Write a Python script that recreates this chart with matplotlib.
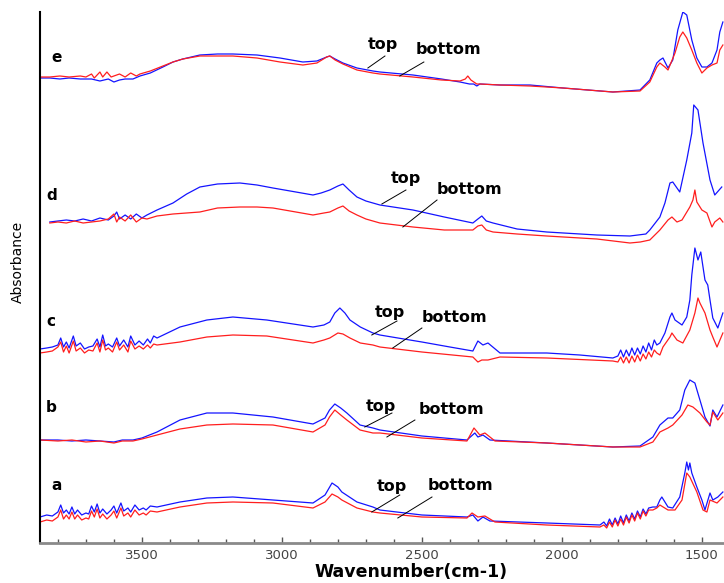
import matplotlib
matplotlib.use("Agg")
import matplotlib.pyplot as plt
from matplotlib.ticker import MultipleLocator, FixedLocator

# ---------------- data (wavenumber cm-1, absorbance in arbitrary stacked units) -------------
# trace e
e_top_wn = [3864, 3829, 3793, 3760, 3720, 3680, 3650, 3620, 3600, 3580, 3560, 3532, 3507, 3470, 3425, 3389,
            3354, 3293, 3230, 3175, 3089, 3007, 2925, 2875, 2840, 2829, 2810, 2782, 2732, 2675, 2650, 2532,
            2430, 2364, 2330, 2315, 2304, 2293, 2221, 2114, 1996, 1818, 1721, 1686, 1661, 1650, 1639, 1621,
            1604, 1586, 1568, 1554, 1536, 1518, 1500, 1482, 1464, 1446, 1436, 1425]
e_top = [465, 465, 464, 465, 464, 464, 462, 464, 461, 463, 464, 464, 467, 470, 476, 481,
         484, 488, 489, 489, 488, 485, 481, 482, 486, 487, 484, 480, 475, 472, 471, 468,
         464, 461, 459, 459, 457, 459, 458, 458, 455, 451, 453, 463, 480, 483, 485, 475,
         483, 513, 531, 528, 503, 485, 476, 476, 480, 493, 511, 521]
e_bot_wn = [3864, 3829, 3793, 3760, 3720, 3700, 3680, 3670, 3650, 3640, 3625, 3610, 3580, 3560, 3540, 3520,
            3507, 3470, 3425, 3389, 3354, 3293, 3230, 3175, 3089, 3007, 2925, 2875, 2840, 2829, 2810, 2782,
            2732, 2675, 2650, 2532, 2430, 2364, 2345, 2336, 2325, 2304, 2293, 2221, 2114, 1996, 1818, 1721,
            1686, 1661, 1650, 1632, 1621, 1596, 1579, 1568, 1554, 1536, 1518, 1500, 1482, 1464, 1446, 1436, 1425]
e_bot = [466, 466, 467, 466, 467, 466, 469, 465, 471, 466, 471, 466, 469, 466, 470, 467,
         469, 472, 477, 481, 484, 487, 487, 487, 485, 481, 478, 480, 486, 487, 483, 479,
         473, 470, 469, 466, 463, 462, 464, 467, 463, 459, 459, 458, 457, 455, 451, 452,
         461, 476, 480, 476, 473, 490, 506, 511, 505, 493, 480, 470, 475, 478, 480, 493, 498]

# trace d
d_top_wn = [3829, 3800, 3770, 3740, 3710, 3680, 3650, 3620, 3600, 3590, 3580, 3560, 3540, 3520, 3500, 3482,
            3446, 3389, 3340, 3293, 3230, 3150, 3089, 3032, 2950, 2889, 2860, 2829, 2800, 2782, 2760, 2732,
            2700, 2650, 2532, 2420, 2318, 2300, 2286, 2270, 2246, 2160, 2054, 1875, 1757, 1700, 1686, 1650,
            1632, 1614, 1604, 1579, 1554, 1536, 1529, 1514, 1496, 1471, 1454, 1429]
d_top = [321, 322, 323, 322, 324, 322, 325, 323, 327, 331, 324, 328, 324, 329, 325, 328,
         333, 340, 349, 356, 359, 360, 358, 355, 351, 348, 350, 353, 357, 359, 353, 346,
         342, 338, 333, 326, 320, 324, 327, 322, 320, 314, 311, 308, 307, 309, 313, 326,
         340, 360, 361, 351, 383, 410, 438, 433, 400, 363, 348, 356]
d_bot_wn = [3829, 3800, 3770, 3740, 3710, 3680, 3650, 3620, 3600, 3590, 3580, 3560, 3540, 3520, 3500, 3482,
            3446, 3389, 3293, 3230, 3150, 3089, 3032, 2950, 2889, 2850, 2829, 2800, 2782, 2760, 2732, 2700,
            2650, 2532, 2420, 2318, 2300, 2286, 2270, 2246, 2160, 2054, 1875, 1757, 1720, 1686, 1650, 1621,
            1607, 1589, 1571, 1543, 1532, 1525, 1518, 1500, 1482, 1464, 1454, 1436, 1425]
d_bot = [320, 321, 320, 322, 320, 321, 322, 324, 329, 321, 326, 322, 328, 321, 325, 324,
         327, 329, 331, 335, 336, 336, 335, 331, 328, 330, 331, 335, 337, 332, 328, 324,
         320, 316, 313, 313, 317, 318, 313, 311, 309, 307, 304, 300, 301, 303, 313, 323,
         326, 321, 323, 336, 343, 353, 341, 333, 330, 316, 321, 325, 321]

# trace c
c_top_wn = [3864, 3840, 3820, 3800, 3790, 3780, 3770, 3760, 3745, 3735, 3720, 3705, 3690, 3675, 3660, 3650,
            3640, 3630, 3620, 3605, 3590, 3580, 3565, 3550, 3540, 3525, 3510, 3495, 3480, 3470, 3458, 3446,
            3364, 3268, 3175, 3054, 2889, 2850, 2829, 2811, 2793, 2775, 2757, 2720, 2675, 2650, 2500, 2400,
            2318, 2300, 2282, 2264, 2221, 2054, 1936, 1818, 1800, 1790, 1780, 1770, 1760, 1750, 1740, 1730,
            1720, 1710, 1700, 1690, 1680, 1670, 1661, 1650, 1632, 1614, 1607, 1596, 1571, 1554, 1543, 1536,
            1525, 1514, 1504, 1489, 1479, 1471, 1461, 1443, 1425]
c_top = [194, 195, 196, 198, 205, 196, 201, 195, 207, 197, 200, 194, 196, 197, 204, 196,
         208, 197, 199, 196, 205, 197, 203, 196, 207, 198, 202, 198, 204, 200, 207, 205,
         216, 223, 226, 223, 216, 218, 221, 230, 235, 230, 223, 216, 210, 208, 201, 196,
         192, 202, 198, 200, 190, 190, 188, 185, 187, 193, 186, 193, 187, 195, 188, 195,
         189, 197, 191, 200, 193, 203, 198, 200, 210, 226, 230, 223, 218, 226, 243, 268,
         295, 283, 291, 263, 258, 243, 225, 215, 230]
c_bot_wn = [3864, 3840, 3820, 3800, 3790, 3780, 3770, 3760, 3745, 3735, 3720, 3705, 3690, 3675, 3660, 3650,
            3640, 3630, 3620, 3605, 3590, 3580, 3565, 3550, 3540, 3525, 3510, 3495, 3480, 3470, 3458, 3446,
            3364, 3268, 3175, 3054, 2889, 2850, 2829, 2800, 2782, 2757, 2720, 2675, 2650, 2500, 2318, 2300,
            2286, 2264, 2221, 2054, 1818, 1800, 1790, 1780, 1770, 1760, 1750, 1740, 1730, 1720, 1710, 1700,
            1690, 1680, 1670, 1661, 1650, 1639, 1614, 1607, 1589, 1568, 1543, 1525, 1514, 1507, 1489, 1471,
            1461, 1446, 1425]
c_bot = [190, 191, 192, 196, 201, 191, 197, 190, 202, 192, 195, 190, 193, 192, 200, 191,
         203, 193, 195, 191, 201, 193, 198, 191, 202, 194, 197, 194, 198, 195, 199, 198,
         201, 206, 208, 207, 200, 203, 205, 210, 209, 205, 200, 198, 196, 191, 186, 181,
         183, 183, 186, 185, 182, 181, 186, 180, 186, 180, 187, 181, 188, 182, 189, 184,
         191, 186, 193, 190, 188, 196, 206, 210, 203, 200, 213, 230, 245, 240, 230, 213,
         206, 196, 210]

# trace b
b_top_wn = [3864, 3800, 3750, 3700, 3650, 3600, 3570, 3532, 3500, 3446, 3364, 3268, 3175, 3032, 2889, 2846,
            2830, 2811, 2790, 2768, 2721, 2675, 2650, 2500, 2339, 2311, 2300, 2282, 2257, 2054, 1818, 1721,
            1675, 1650, 1621, 1604, 1579, 1561, 1543, 1525, 1507, 1489, 1471, 1461, 1446, 1425]
b_top = [103, 103, 102, 103, 102, 101, 103, 103, 105, 111, 123, 130, 130, 126, 119, 125,
         133, 139, 135, 130, 118, 115, 113, 107, 103, 110, 106, 108, 103, 100, 96, 97,
         106, 118, 125, 125, 133, 153, 163, 160, 143, 126, 117, 133, 126, 138]
b_bot_wn = [3864, 3800, 3750, 3700, 3650, 3600, 3570, 3532, 3500, 3446, 3364, 3268, 3175, 3032, 2889, 2846,
            2830, 2811, 2790, 2768, 2721, 2675, 2650, 2500, 2339, 2314, 2293, 2275, 2239, 2054, 1818, 1721,
            1675, 1650, 1621, 1604, 1571, 1550, 1532, 1507, 1482, 1471, 1461, 1443, 1425]
b_bot = [103, 102, 103, 101, 102, 100, 102, 102, 104, 108, 114, 118, 119, 118, 111, 118,
         126, 133, 128, 123, 113, 110, 110, 105, 102, 115, 108, 110, 102, 100, 96, 96,
         101, 111, 115, 118, 128, 138, 136, 130, 121, 118, 131, 123, 130]

# trace a
a_top_wn = [3864, 3840, 3820, 3800, 3790, 3780, 3770, 3760, 3750, 3740, 3730, 3715, 3700, 3690, 3680, 3670,
            3660, 3650, 3640, 3625, 3610, 3600, 3590, 3575, 3565, 3550, 3540, 3525, 3510, 3495, 3485, 3470,
            3446, 3364, 3268, 3175, 3032, 2889, 2846, 2821, 2800, 2786, 2732, 2675, 2650, 2500, 2339, 2318,
            2300, 2282, 2257, 2054, 1864, 1850, 1840, 1830, 1820, 1810, 1800, 1790, 1780, 1770, 1760, 1750,
            1740, 1730, 1720, 1710, 1700, 1690, 1675, 1661, 1650, 1643, 1621, 1604, 1579, 1561, 1554, 1548,
            1543, 1536, 1518, 1500, 1489, 1471, 1461, 1443, 1425]
a_top = [26, 28, 27, 31, 38, 30, 33, 29, 36, 29, 33, 28, 30, 29, 37, 31,
         39, 30, 34, 29, 33, 37, 30, 40, 32, 35, 31, 38, 33, 35, 33, 37,
         36, 41, 45, 46, 43, 40, 48, 60, 56, 51, 41, 36, 33, 28, 26, 28,
         22, 26, 22, 20, 18, 21, 17, 24, 18, 25, 19, 27, 20, 28, 22, 30,
         24, 32, 26, 34, 29, 35, 36, 36, 43, 46, 36, 35, 46, 70, 81, 73,
         80, 70, 56, 43, 33, 50, 43, 46, 51]
a_bot_wn = [3864, 3840, 3820, 3800, 3790, 3780, 3770, 3760, 3750, 3740, 3730, 3715, 3700, 3690, 3680, 3670,
            3660, 3650, 3640, 3625, 3610, 3600, 3590, 3575, 3565, 3550, 3540, 3525, 3510, 3495, 3485, 3470,
            3446, 3364, 3268, 3175, 3032, 2889, 2846, 2821, 2800, 2786, 2732, 2675, 2650, 2500, 2339, 2321,
            2300, 2275, 2239, 2054, 1864, 1850, 1840, 1830, 1820, 1810, 1800, 1790, 1780, 1770, 1760, 1750,
            1740, 1730, 1720, 1710, 1700, 1690, 1675, 1661, 1650, 1621, 1596, 1571, 1554, 1543, 1518, 1496,
            1482, 1471, 1446, 1425]
a_bot = [21, 23, 22, 26, 33, 24, 28, 24, 31, 24, 28, 23, 25, 24, 32, 26,
         34, 25, 29, 24, 28, 32, 25, 35, 27, 30, 26, 33, 28, 30, 28, 32,
         31, 36, 40, 41, 40, 35, 41, 49, 46, 43, 35, 31, 30, 26, 25, 30,
         26, 27, 21, 18, 16, 18, 15, 21, 16, 23, 17, 24, 18, 26, 20, 28,
         22, 30, 24, 32, 27, 33, 33, 35, 38, 33, 33, 43, 70, 66, 51, 33,
         31, 43, 40, 46]

trace_names = ["a", "b", "c", "d", "e"]
top_series = [(a_top_wn, a_top), (b_top_wn, b_top), (c_top_wn, c_top), (d_top_wn, d_top), (e_top_wn, e_top)]
bot_series = [(a_bot_wn, a_bot), (b_bot_wn, b_bot), (c_bot_wn, c_bot), (d_bot_wn, d_bot), (e_bot_wn, e_bot)]

# label positions (wavenumber, absorbance)
letter_pos = [(3804, 57), (3825, 135), (3825, 221), (3821, 347), (3804, 486)]
top_text_pos = [(2607, 56), (2646, 136), (2614, 231), (2557, 365), (2639, 498)]
bot_text_pos = [(2361, 58), (2396, 134), (2382, 226), (2329, 353), (2404, 493)]
top_leader = [((2679, 31), (2579, 48)), ((2704, 116), (2607, 130)), ((2679, 208), (2589, 222)),
              ((2643, 339), (2557, 353)), ((2693, 475), (2632, 487))]
bot_leader = [((2586, 25), (2464, 46)), ((2625, 106), (2525, 123)), ((2604, 195), (2500, 215)),
              ((2568, 316), (2446, 343)), ((2579, 467), (2493, 481))]

x_major = [3500, 3000, 2500, 2000, 1500]

# ---------------- figure -------------
W, H = 724, 583
fig = plt.figure(figsize=(W / 100, H / 100), dpi=100)
fig.patch.set_facecolor("white")
ax = fig.add_axes([40 / W, 40 / H, 684 / W, 531 / H])

for (wn, v) in top_series:
    ax.plot(wn, v, color="#1414ff", lw=0.9)
for (wn, v) in bot_series:
    ax.plot(wn, v, color="#ff1e1e", lw=0.9)

for i, name in enumerate(trace_names):
    ax.text(*letter_pos[i], name, fontsize=11, fontweight="bold", ha="center", va="center")
    ax.text(*top_text_pos[i], "top", fontsize=11.5, fontweight="bold", ha="center", va="center")
    ax.text(*bot_text_pos[i], "bottom", fontsize=11.5, fontweight="bold", ha="center", va="center")
    (x0, y0), (x1, y1) = top_leader[i]
    ax.plot([x0, x1], [y0, y1], color="black", lw=0.7)
    (x0, y0), (x1, y1) = bot_leader[i]
    ax.plot([x0, x1], [y0, y1], color="black", lw=0.7)

ax.set_xlim(3864, 1421)
ax.set_ylim(0, 531)
ax.xaxis.set_major_locator(FixedLocator(x_major))
ax.xaxis.set_minor_locator(MultipleLocator(100))
ax.set_yticks([])
ax.spines["top"].set_visible(False)
ax.spines["right"].set_visible(False)
ax.spines["left"].set_color("black")
ax.spines["left"].set_linewidth(1.5)
ax.spines["bottom"].set_color("#8a8a8a")
ax.spines["bottom"].set_linewidth(2.0)
ax.tick_params(axis="x", which="both", direction="in", colors="#555555", labelsize=9.5,
               labelcolor="#444444", pad=4)
ax.tick_params(axis="x", which="major", length=4, width=1)
ax.tick_params(axis="x", which="minor", length=3, width=1)

fig.text(411 / W, 1 - 572 / H, "Wavenumber(cm-1)", fontsize=12.5, fontweight="bold",
         ha="center", va="center")
fig.text(18 / W, 1 - 262 / H, "Absorbance", fontsize=10, rotation=90, ha="center", va="center")

fig.savefig("out.png", dpi=100, facecolor="white")
